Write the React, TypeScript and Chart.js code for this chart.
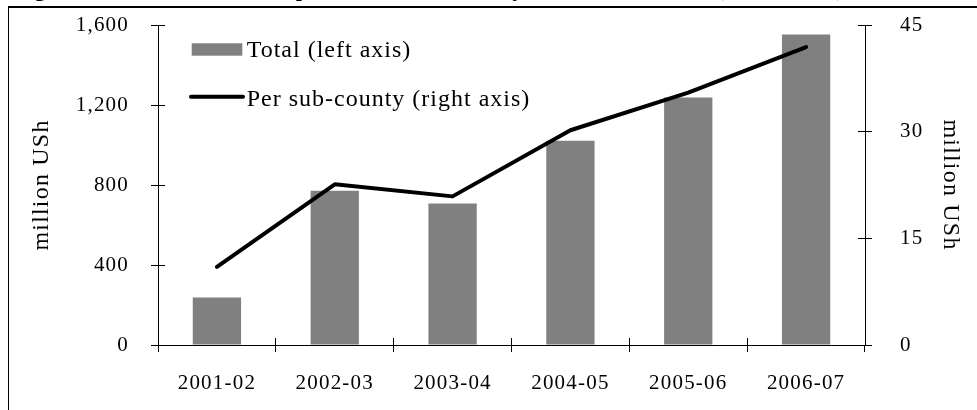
import { useEffect, useRef } from "react";
import { Chart, registerables } from "chart.js";

Chart.register(...registerables);

const categories = ["2001-02", "2002-03", "2003-04", "2004-05", "2005-06", "2006-07"];
const totalValues = [238, 771, 708, 1021, 1238, 1553];
const perSubCountyValues = [11.0, 22.6, 20.9, 30.2, 35.5, 41.9];
const leftTicks = [0, 400, 800, 1200, 1600];
const rightTicks = [0, 15, 30, 45];
const seriesLabels = ["Total (left axis)", "Per sub-county (right axis)"];
const axisTitle = "million USh";
const figureTitle = "Figure 10: Total LLG expenditure in surveyed sub-counties (2006 USh)";

const FAMILY = "'Liberation Serif', 'Times New Roman', serif";
const TICK_LEN = 7;

const spacingPlugin = {
  id: "letterSpacing",
  beforeUpdate(chart: any) {
    chart.ctx.letterSpacing = "1.2px";
  },
  beforeDraw(chart: any) {
    chart.ctx.letterSpacing = "1.2px";
  },
};

const crossTicksPlugin = {
  id: "crossTicks",
  afterDraw(chart: any) {
    const { ctx, chartArea, scales } = chart;
    const align = (p: number) => Math.round(p - 0.5) + 0.5;
    ctx.save();
    ctx.strokeStyle = "#000";
    ctx.lineWidth = 1;
    ctx.beginPath();
    for (let k = 0; k <= categories.length; k++) {
      const px = align(scales.x.getPixelForValue(k - 0.5));
      ctx.moveTo(px, chartArea.bottom);
      ctx.lineTo(px, chartArea.bottom - TICK_LEN);
    }
    scales.y.ticks.forEach((t: any) => {
      const py = align(scales.y.getPixelForValue(t.value));
      ctx.moveTo(chartArea.left, py);
      ctx.lineTo(chartArea.left + TICK_LEN, py);
    });
    scales.y1.ticks.forEach((t: any) => {
      const py = align(scales.y1.getPixelForValue(t.value));
      ctx.moveTo(chartArea.right, py);
      ctx.lineTo(chartArea.right - TICK_LEN, py);
    });
    ctx.stroke();
    ctx.restore();
  },
};

const legendPlugin = {
  id: "customLegend",
  afterDraw(chart: any) {
    const { ctx, chartArea } = chart;
    const ds = chart.data.datasets;
    const x0 = chartArea.left + 33.7;
    ctx.save();
    ctx.letterSpacing = "1px";
    ctx.font = `24px ${FAMILY}`;
    ctx.textBaseline = "middle";
    ctx.textAlign = "left";
    ctx.fillStyle = ds[0].backgroundColor;
    ctx.fillRect(x0, chartArea.top + 18.3, 50.6, 12.4);
    ctx.fillStyle = "#000";
    ctx.fillText(ds[0].label, x0 + 55, chartArea.top + 25.5);
    ctx.strokeStyle = ds[1].borderColor;
    ctx.lineWidth = 4;
    ctx.lineCap = "round";
    ctx.beginPath();
    ctx.moveTo(chartArea.left + 33, chartArea.top + 71.7);
    ctx.lineTo(chartArea.left + 85, chartArea.top + 71.7);
    ctx.stroke();
    ctx.fillText(ds[1].label, x0 + 55, chartArea.top + 74.5);
    ctx.restore();
  },
};

export default function App() {
  const canvasRef = useRef<HTMLCanvasElement | null>(null);

  useEffect(() => {
    if (!canvasRef.current) return;
    const tickFont = { family: FAMILY, size: 21 };
    const titleFont = { family: FAMILY, size: 24 };
    const chart = new Chart(canvasRef.current, {
      type: "bar",
      data: {
        labels: categories,
        datasets: [
          {
            type: "bar",
            label: seriesLabels[0],
            data: totalValues,
            backgroundColor: "#808080",
            borderWidth: 0,
            barPercentage: 0.41,
            categoryPercentage: 1,
            yAxisID: "y",
            order: 2,
          },
          {
            type: "line",
            label: seriesLabels[1],
            data: perSubCountyValues,
            borderColor: "#000000",
            backgroundColor: "#000000",
            borderWidth: 4,
            pointRadius: 0,
            tension: 0,
            borderCapStyle: "round",
            borderJoinStyle: "round",
            yAxisID: "y1",
            order: 1,
          },
        ] as any,
      },
      options: {
        responsive: true,
        maintainAspectRatio: false,
        animation: false,
        layout: { padding: { top: 25, left: 0, right: 0, bottom: 0 } },
        plugins: {
          legend: { display: false },
          tooltip: { enabled: false },
          title: { display: false },
        },
        scales: {
          x: {
            type: "category",
            offset: true,
            grid: {
              offset: true,
              drawOnChartArea: false,
              drawTicks: true,
              tickLength: TICK_LEN,
              color: "#000",
              lineWidth: 1,
            },
            border: { color: "#000", width: 1 },
            ticks: {
              color: "#000",
              font: tickFont,
              padding: 19,
              maxRotation: 0,
              autoSkip: false,
            },
            afterFit: (s: any) => {
              s.height = 65;
              s.paddingLeft = 0;
              s.paddingRight = 0;
            },
          },
          y: {
            type: "linear",
            position: "left",
            min: 0,
            max: 1600,
            afterBuildTicks: (s: any) => {
              s.ticks = leftTicks.map((v) => ({ value: v }));
            },
            grid: {
              drawOnChartArea: false,
              drawTicks: true,
              tickLength: TICK_LEN,
              color: "#000",
            },
            border: { color: "#000", width: 1 },
            ticks: {
              color: "#000",
              font: tickFont,
              padding: 22,
              callback: (v: any) => Number(v).toLocaleString("en-US"),
            },
            title: {
              display: true,
              text: axisTitle,
              color: "#000",
              font: titleFont,
              padding: { top: 27, bottom: 0 },
            },
            afterFit: (s: any) => {
              s.width = 158;
              s.paddingTop = 0;
              s.paddingBottom = 0;
            },
          },
          y1: {
            type: "linear",
            position: "right",
            min: 0,
            max: 45,
            afterBuildTicks: (s: any) => {
              s.ticks = rightTicks.map((v) => ({ value: v }));
            },
            grid: {
              drawOnChartArea: false,
              drawTicks: true,
              tickLength: TICK_LEN,
              color: "#000",
            },
            border: { color: "#000", width: 1 },
            ticks: {
              color: "#000",
              font: tickFont,
              padding: 28,
            },
            title: {
              display: true,
              text: axisTitle,
              color: "#000",
              font: titleFont,
              padding: { top: 12.6, bottom: 0 },
            },
            afterFit: (s: any) => {
              s.width = 112;
              s.paddingTop = 0;
              s.paddingBottom = 0;
            },
          },
        },
      } as any,
      plugins: [spacingPlugin, crossTicksPlugin, legendPlugin] as any,
    });
    return () => chart.destroy();
  }, []);

  return (
    <div
      style={{
        position: "fixed",
        left: 0,
        top: 0,
        width: 977,
        height: 410,
        overflow: "hidden",
        background: "#fff",
      }}
    >
      <div
        style={{
          position: "absolute",
          left: 10,
          top: -22,
          whiteSpace: "nowrap",
          fontFamily: FAMILY,
          fontWeight: "bold",
          fontSize: 22,
          lineHeight: "22px",
          letterSpacing: "2.5px",
          color: "#000",
        }}
      >
        {figureTitle}
      </div>
      <div
        style={{
          position: "absolute",
          left: 8,
          top: 6,
          width: 1200,
          height: 1000,
          borderTop: "2px solid #000",
          borderLeft: "1.5px solid #000",
        }}
      />
      <div style={{ position: "absolute", left: 0, top: 0, width: 977, height: 410 }}>
        <canvas ref={canvasRef} />
      </div>
    </div>
  );
}
